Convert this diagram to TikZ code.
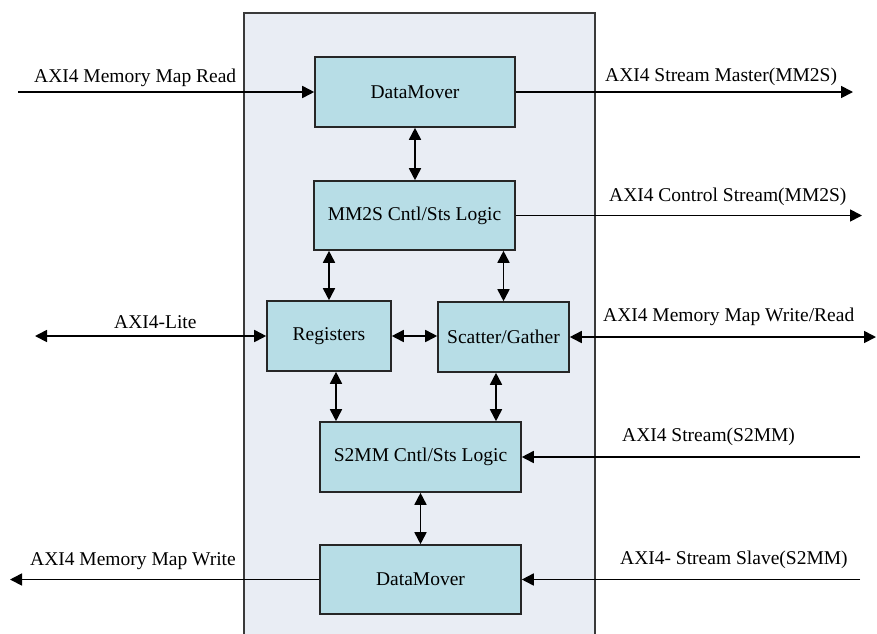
\documentclass[tikz,border=0pt]{standalone}
\usepackage{fontspec}
\setmainfont{Liberation Serif}
\usetikzlibrary{arrows.meta}
\definecolor{panelfill}{HTML}{E9EDF4}
\definecolor{boxfill}{HTML}{B7DDE6}
\definecolor{edgegray}{HTML}{3A3A3A}

\begin{document}
\begin{tikzpicture}[x=1pt,y=-1pt,
  every node/.style={font=\fontsize{19.5}{23}\selectfont},
  block/.style={draw=black!85, line width=1.6pt, fill=boxfill, inner sep=0pt},
  tip/.tip={Triangle[length=12pt,width=12pt]},
  link/.style={line width=1.7pt, -tip},
  duplex/.style={line width=1.7pt, tip-tip},
  lbl/.style={anchor=base west, inner sep=0pt}]
\useasboundingbox (0,0) rectangle (877,633);

% enclosing core panel
\path[fill=panelfill, draw=edgegray, line width=2.2pt] (244,13) rectangle (595,645);

% functional blocks
\node[block, minimum width=200pt, minimum height=70pt] (dm1)  at (415,92)    {DataMover};
\node[block, minimum width=201pt, minimum height=69pt] (mm2s) at (414.5,215.5) {MM2S Cntl/Sts Logic};
\node[block, minimum width=124pt, minimum height=70pt] (regs) at (329,336)   {Registers};
\node[block, minimum width=131pt, minimum height=70pt] (scat) at (503.5,337) {Scatter/Gather};
\node[block, minimum width=201pt, minimum height=70pt] (s2mm) at (420.5,457) {S2MM Cntl/Sts Logic};
\node[block, minimum width=201pt, minimum height=69pt] (dm2)  at (420.5,579.5) {DataMover};

% internal links
\draw[duplex] (dm1.south) -- (dm1.south |- mm2s.north);
\draw[duplex] (regs.north |- mm2s.south) -- (regs.north);
\draw[duplex] (scat.north |- mm2s.south) -- (scat.north);
\draw[duplex] (regs.east) -- (regs.east -| scat.west);
\draw[duplex] ([xshift=7pt]regs.south) -- ([xshift=7pt]regs.south |- s2mm.north);
\draw[duplex] ([xshift=-7.5pt]scat.south) -- ([xshift=-7.5pt]scat.south |- s2mm.north);
\draw[duplex] (s2mm.south) -- (s2mm.south |- dm2.north);

% external interfaces
\coordinate (inRd)  at (18,92);
\coordinate (outMS) at (853,92);
\coordinate (outCS) at (862,215.5);
\coordinate (lite)  at (35,336);
\coordinate (mmwr)  at (876,337);
\coordinate (inS)   at (860,457);
\coordinate (inSS)  at (860,579.5);
\coordinate (outW)  at (10,579.5);

\draw[link] (inRd) -- (dm1.west);
\draw[link] (dm1.east) -- (outMS);
\draw[link] (mm2s.east) -- (outCS);
\draw[duplex] (lite) -- (regs.west);
\draw[duplex] (scat.east) -- (mmwr);
\draw[link] (inS) -- (s2mm.east);
\draw[link] (inSS) -- (dm2.east);
\draw[link] (dm2.west) -- (outW);

% interface labels
\node[lbl] (tRd)   at (34,82)   {AXI4 Memory Map Read};
\node[lbl] (tMS)   at (605,81)  {AXI4 Stream Master(MM2S)};
\node[lbl] (tCS)   at (609,201) {AXI4 Control Stream(MM2S)};
\node[lbl] (tLite) at (114,328) {AXI4-Lite};
\node[lbl] (tWR)   at (603,321) {AXI4 Memory Map Write/Read};
\node[lbl] (tS)    at (622,441) {AXI4 Stream(S2MM)};
\node[lbl] (tSS)   at (620,564) {AXI4- Stream Slave(S2MM)};
\node[lbl] (tW)    at (30,565)  {AXI4 Memory Map Write};
\end{tikzpicture}
\end{document}
